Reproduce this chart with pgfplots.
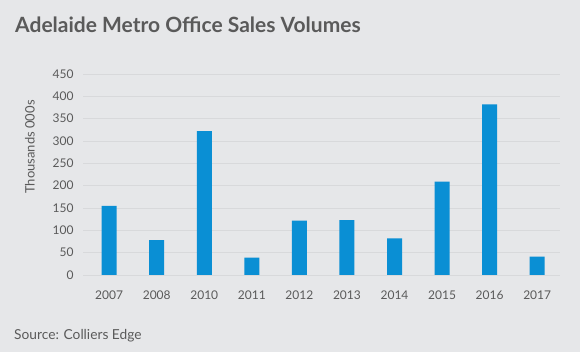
\documentclass[border=0pt]{standalone}
\usepackage{fontspec}
\setmainfont{Lato}
\usepackage{pgfplots}
\pgfplotsset{compat=1.18}
\definecolor{bg}{HTML}{E6E7E9}
\definecolor{barblue}{HTML}{0A8FD4}
\definecolor{txt}{HTML}{5A5A5A}
\definecolor{gridc}{HTML}{D8D9DB}
\begin{document}
\begin{tikzpicture}[x=1pt,y=1pt]
\fill[bg] (0,0) rectangle (580,352);
\node[anchor=west, text=txt, font=\fontsize{21}{25}\selectfont\bfseries, inner sep=0pt] at (15,327) {Adelaide Metro Office Sales Volumes};
\node[anchor=west, text=txt, font=\fontsize{13.75}{16}\selectfont, inner sep=0pt] at (14,16) {Source: Colliers Edge};
\begin{axis}[at={(83pt,77pt)}, anchor=south west, scale only axis,
  width=477pt, height=201pt,
  ymin=0, ymax=450, xmin=-0.55, xmax=9.48,
  axis line style={draw=none},
  ytick={0,50,...,450},
  xtick={0,...,9},
  xticklabels={2007,2008,2010,2011,2012,2013,2014,2015,2016,2017},
  tick style={draw=none},
  ymajorgrids, grid style={gridc, line width=0.8pt},
  ybar, bar width=15pt,
  ticklabel style={font=\fontsize{12}{14}\selectfont, text=txt},
  /pgf/number format/assume math mode=true,
  yticklabel style={xshift=-6pt},
  xticklabel style={yshift=-8pt},
  clip=false]
\addplot[fill=barblue, draw=none] coordinates {(0,155)(1,78)(2,322)(3,39)(4,122)(5,123)(6,82)(7,209)(8,382)(9,41)};
\end{axis}
\node[rotate=90, text=txt, font=\fontsize{13}{15}\selectfont] at (30,205) {Thousands 000s};
\end{tikzpicture}
\end{document}
